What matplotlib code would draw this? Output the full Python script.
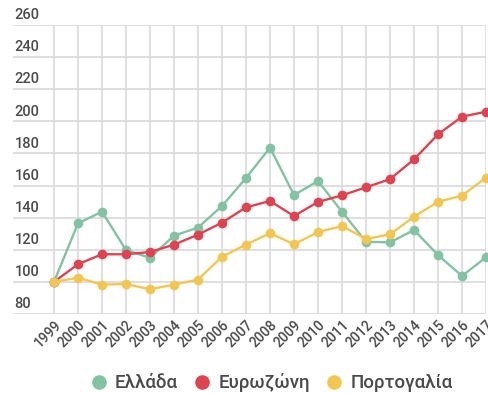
import matplotlib
matplotlib.use("Agg")
import matplotlib.pyplot as plt
from matplotlib.lines import Line2D

years = list(range(1999, 2018))
greece = [100, 136.5, 143.7, 119.8, 115.0, 128.8, 133.8, 147.3, 164.7, 183.6,
          154.1, 162.8, 143.7, 125.0, 124.6, 132.3, 116.7, 103.7, 115.3]
eurozone = [100, 111.0, 117.2, 117.2, 118.6, 123.2, 129.4, 136.9, 146.4, 150.4,
            141.0, 149.8, 153.9, 158.9, 164.0, 176.3, 191.9, 202.9, 206.0]
portugal = [100, 102.6, 98.3, 98.7, 95.4, 98.3, 101.4, 115.7, 123.2, 130.3,
            123.4, 131.0, 134.8, 126.7, 129.6, 140.6, 149.9, 153.7, 164.9]
series_names = ["Ελλάδα", "Ευρωζώνη", "Πορτογαλία"]
colors = ["#82c3a3", "#df4350", "#f2c751"]
y_ticks = list(range(80, 261, 20))

plt.rcParams["font.family"] = ["Roboto", "DejaVu Sans"]
text_color = "#4a4a4a"

fig = plt.figure(figsize=(4.89, 3.94), dpi=100)
ax = fig.add_axes([13 / 489, 1 - 314 / 394, 473 / 489, 289 / 394])

for vals, c in zip([greece, eurozone, portugal], colors):
    ax.plot(years, vals, color=c, lw=1.7, marker="o", ms=7,
            markeredgewidth=0, clip_on=False, zorder=3)

ax.set_xlim(1999 - 41 / 24, 2017)
ax.set_ylim(80, 260)
ax.set_xticks(years)
ax.set_xticklabels([str(y) for y in years], rotation=45, ha="right",
                   va="top", rotation_mode="anchor", fontsize=10,
                   fontweight="medium", color=text_color)
ax.set_yticks(y_ticks)
ax.set_yticklabels([])
ax.tick_params(axis="x", length=0, pad=3)
ax.tick_params(axis="y", length=0)
ax.grid(True, color="#d9d9d9", lw=1.2)
ax.set_axisbelow(True)
for s in ax.spines.values():
    s.set_visible(False)

for v in y_ticks:
    ax.annotate(str(v), xy=(0, v), xycoords=("axes fraction", "data"),
                xytext=(1, 2), textcoords="offset points",
                ha="left", va="bottom", fontsize=10.5, fontweight="medium",
                color=text_color)

handles = [Line2D([], [], ls="none", marker="o", ms=10.5, color=c,
                  markeredgewidth=0) for c in colors]
fig.legend(handles, series_names, loc="center", ncol=3,
           bbox_to_anchor=(271 / 489, 1 - 383 / 394), frameon=False,
           prop={"size": 13.5, "weight": "medium"}, handletextpad=0.35,
           columnspacing=0.8, labelcolor=text_color, handlelength=1.0)

fig.savefig("out.png", dpi=100)
